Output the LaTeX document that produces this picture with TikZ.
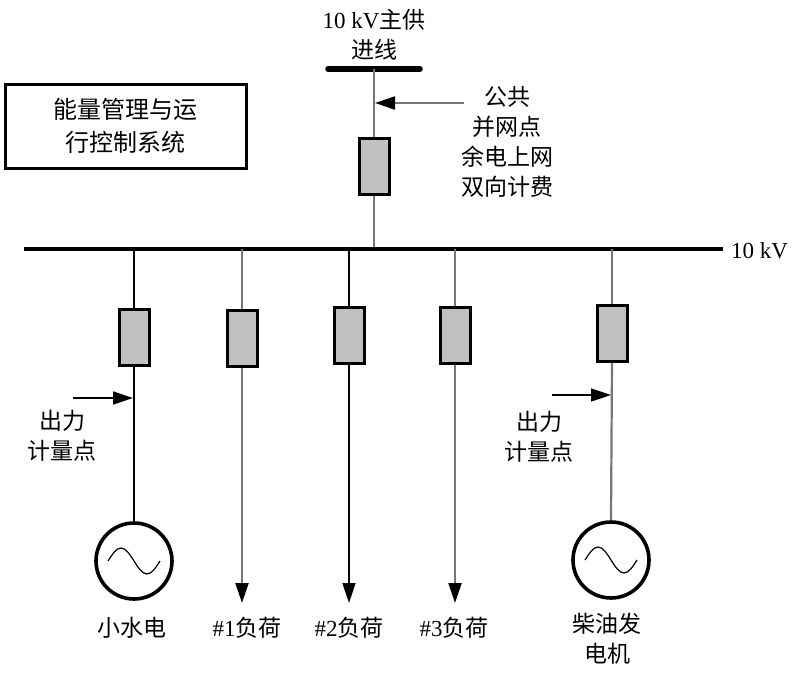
\documentclass[tikz,border=0pt]{standalone}
\usepackage{fontspec}
\setmainfont{Liberation Serif}
\newfontfamily\cjk{Noto Sans CJK SC}
\usetikzlibrary{arrows.meta}
\definecolor{boxgray}{RGB}{192,192,192}
\definecolor{linegray}{RGB}{118,118,118}
\begin{document}
\begin{tikzpicture}[x=1pt,y=-1pt,
 meter/.style={draw=black,line width=3pt,fill=boxgray,minimum width=30pt,minimum height=56pt,inner sep=0pt},
 gen/.style={circle,draw=black,line width=3.6pt,minimum size=76pt,inner sep=0pt},
 lbl/.style={font=\fontsize{23}{30}\selectfont\cjk,align=center,inner sep=0pt},
 tip/.style={-{Triangle[length=20pt,width=13pt,color=black]}},
 blk/.style={line width=1.6pt,black},
 gry/.style={line width=2.2pt,linegray}]
\useasboundingbox (0,0) rectangle (796,678);

% top feeder
\node[lbl] (toplbl) at (374,35) {{\fontspec{Liberation Serif}10 kV}主供\\进线};
\coordinate (barL) at (328,69);
\coordinate (barR) at (420,69);
\coordinate (feed) at (374,69);
\draw[line width=5.5pt,line cap=round] (barL) -- (barR);
\node[meter] (mt) at (374,166) {};
\coordinate (busF) at (374,249);
\draw[gry] (feed) -- (mt.north);
\draw[gry] (mt.south) -- (busF);
\coordinate (arrT) at (464,103);
\coordinate (arrH) at (375,103);
\draw[gry,tip] (arrT) -- (arrH);
\node[lbl] (pcc) at (507,142) {公共\\并网点\\余电上网\\双向计费};

% EMS box
\node[draw=black,line width=3pt,minimum width=241pt,minimum height=84pt,inner sep=0pt,
      font=\fontsize{24}{33}\selectfont\cjk,align=center] (ems) at (125.5,126) {能量管理与运\\行控制系统};

% bus
\coordinate (busL) at (24,249);
\coordinate (busR) at (723,249);
\draw[line width=3.2pt] (busL) -- (busR);
\node[anchor=west,inner sep=0pt,font=\fontsize{23}{28}\selectfont] (buslbl) at (731,251) {10 kV};

% branch 1: small hydro
\coordinate (b1) at (134,249);
\node[meter] (m1) at (134,337) {};
\node[gen] (g1) at (134,561) {};
\draw[blk] (b1) -- (m1.north);
\draw[blk] (m1.south) -- (g1.north);
\draw[line width=1.2pt] ([xshift=-26pt]g1.center) sin ++(13pt,13pt) cos ++(13pt,-13pt) sin ++(13pt,-13pt) cos ++(13pt,13pt);
\coordinate (a1T) at (73,398);
\coordinate (a1H) at (133,398);
\draw[blk,tip] (a1T) -- (a1H);
\node[lbl] (ol1) at (62,436) {出力\\计量点};
\node[lbl] (n1) at (132,628) {小水电};

% branch 2: load 1
\coordinate (b2) at (242,249);
\node[meter] (m2) at (242,338) {};
\coordinate (l2) at (242,603);
\draw[gry] (b2) -- (m2.north);
\draw[gry,tip] (m2.south) -- (l2);
\node[lbl] (n2) at (247,628) {{\fontspec{Liberation Serif}\#1}负荷};

% branch 3: load 2
\coordinate (b3) at (349,249);
\node[meter] (m3) at (349,335) {};
\coordinate (l3) at (349,603);
\draw[blk] (b3) -- (m3.north);
\draw[blk,tip] (m3.south) -- (l3);
\node[lbl] (n3) at (349,628) {{\fontspec{Liberation Serif}\#2}负荷};

% branch 4: load 3
\coordinate (b4) at (455,249);
\node[meter] (m4) at (455,335) {};
\coordinate (l4) at (455,603);
\draw[gry] (b4) -- (m4.north);
\draw[gry,tip] (m4.south) -- (l4);
\node[lbl] (n4) at (454,628) {{\fontspec{Liberation Serif}\#3}负荷};

% branch 5: diesel
\coordinate (b5) at (612,249);
\node[meter] (m5) at (612,333) {};
\node[gen] (g5) at (611,560) {};
\draw[gry] (b5) -- (m5.north);
\draw[gry] (m5.south) -- (g5.north);
\draw[line width=1.2pt] ([xshift=-26pt]g5.center) sin ++(13pt,13pt) cos ++(13pt,-13pt) sin ++(13pt,-13pt) cos ++(13pt,13pt);
\coordinate (a5T) at (552,395);
\coordinate (a5H) at (611,395);
\draw[blk,tip] (a5T) -- (a5H);
\node[lbl] (ol5) at (539,437) {出力\\计量点};
\node[lbl] (n5) at (607,639) {柴油发\\电机};
\end{tikzpicture}
\end{document}
